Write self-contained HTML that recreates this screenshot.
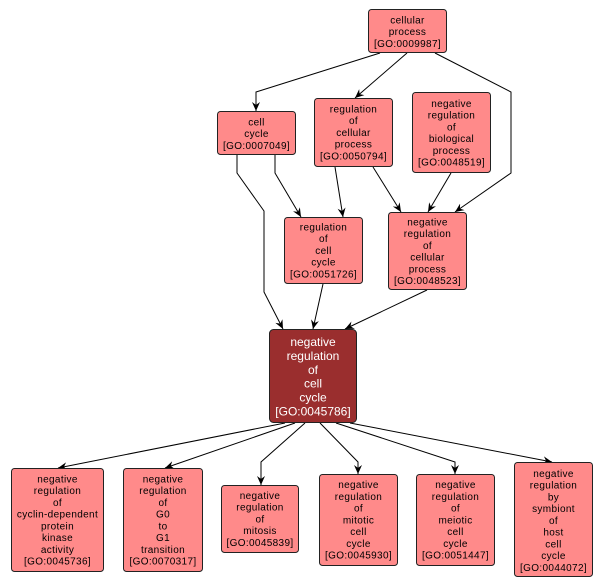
<!DOCTYPE html>
<html><head><meta charset="utf-8"><style>
html,body{margin:0;padding:0;background:#fff;}
svg{display:block;}
text{font-family:"Liberation Sans",Arial,sans-serif;}
.t{font-size:10px;letter-spacing:0.35px;fill:#000;text-anchor:middle;}
.m{font-size:12px;fill:#fff;text-anchor:middle;}
.n{fill:#FF8A8A;stroke:#222;stroke-width:1;}
.e{fill:none;stroke:#000;stroke-width:1;}
</style></head><body>
<svg width="603" height="588" viewBox="0 0 603 588" xmlns="http://www.w3.org/2000/svg">
<defs>
<marker id="a" markerWidth="10" markerHeight="8" refX="9" refY="4" orient="auto" markerUnits="userSpaceOnUse">
<path d="M0,0 L9,4 L0,8 L3,4 z" fill="#000"/>
</marker>
</defs>
<rect width="603" height="588" fill="#fff"/>
<!-- edges -->
<polyline class="e" points="380,53 256,92 256,111" marker-end="url(#a)"/>
<polyline class="e" points="407,53 355,98" marker-end="url(#a)"/>
<polyline class="e" points="435,53 511,92 511,173 455,212" marker-end="url(#a)"/>
<polyline class="e" points="237,155 237,173 264,211 264,292 283,329" marker-end="url(#a)"/>
<polyline class="e" points="275,155 275,173 301,217" marker-end="url(#a)"/>
<polyline class="e" points="335,167 343,217" marker-end="url(#a)"/>
<polyline class="e" points="373,167 401,212" marker-end="url(#a)"/>
<polyline class="e" points="451,173 428,212" marker-end="url(#a)"/>
<polyline class="e" points="323,284 313,329" marker-end="url(#a)"/>
<polyline class="e" points="427,290 345,329" marker-end="url(#a)"/>
<polyline class="e" points="285,423 58,468" marker-end="url(#a)"/>
<polyline class="e" points="295,423 165,468" marker-end="url(#a)"/>
<polyline class="e" points="305,423 261,462 261,485" marker-end="url(#a)"/>
<polyline class="e" points="320,423 358,462 358,474" marker-end="url(#a)"/>
<polyline class="e" points="336,423 455,462 455,474" marker-end="url(#a)"/>
<polyline class="e" points="350,423 552,462" marker-end="url(#a)"/>

<!-- nodes -->
<rect class="n" x="368.5" y="9.5" width="78" height="43" rx="3"/>
<text class="t" x="407.5"><tspan x="407.5" y="23.5">cellular</tspan><tspan x="407.5" y="35.2">process</tspan><tspan x="407.5" y="47">[GO:0009987]</tspan></text>

<rect class="n" x="217.5" y="111.5" width="78" height="43" rx="3"/>
<text class="t"><tspan x="256.5" y="125.5">cell</tspan><tspan x="256.5" y="137.2">cycle</tspan><tspan x="256.5" y="149">[GO:0007049]</tspan></text>

<rect class="n" x="314.5" y="98.5" width="78" height="68" rx="3"/>
<text class="t"><tspan x="353.5" y="112.5">regulation</tspan><tspan x="353.5" y="124.2">of</tspan><tspan x="353.5" y="136">cellular</tspan><tspan x="353.5" y="147.7">process</tspan><tspan x="353.5" y="159.5">[GO:0050794]</tspan></text>

<rect class="n" x="412.5" y="92.5" width="78" height="80" rx="3"/>
<text class="t"><tspan x="451.5" y="106.8">negative</tspan><tspan x="451.5" y="118.6">regulation</tspan><tspan x="451.5" y="130.4">of</tspan><tspan x="451.5" y="142.1">biological</tspan><tspan x="451.5" y="153.9">process</tspan><tspan x="451.5" y="165.6">[GO:0048519]</tspan></text>

<rect class="n" x="284.5" y="217.5" width="78" height="66" rx="3"/>
<text class="t"><tspan x="323.5" y="230.5">regulation</tspan><tspan x="323.5" y="242.2">of</tspan><tspan x="323.5" y="254">cell</tspan><tspan x="323.5" y="265.7">cycle</tspan><tspan x="323.5" y="277.5">[GO:0051726]</tspan></text>

<rect class="n" x="388.5" y="212.5" width="78" height="77" rx="3"/>
<text class="t"><tspan x="427.5" y="225.3">negative</tspan><tspan x="427.5" y="237.1">regulation</tspan><tspan x="427.5" y="248.9">of</tspan><tspan x="427.5" y="260.6">cellular</tspan><tspan x="427.5" y="272.4">process</tspan><tspan x="427.5" y="284.1">[GO:0048523]</tspan></text>

<rect x="269.5" y="329.5" width="87" height="93" rx="4" fill="#9A2E2E" stroke="#222"/>
<text class="m"><tspan x="313" y="346">negative</tspan><tspan x="313" y="360">regulation</tspan><tspan x="313" y="373.8">of</tspan><tspan x="313" y="387.6">cell</tspan><tspan x="313" y="401.5">cycle</tspan><tspan x="313" y="415.4">[GO:0045786]</tspan></text>

<rect class="n" x="11.5" y="468.5" width="92" height="103" rx="3"/>
<text class="t"><tspan x="57.5" y="482.4">negative</tspan><tspan x="57.5" y="494.1">regulation</tspan><tspan x="57.5" y="505.9">of</tspan><tspan x="57.5" y="517.6">cyclin-dependent</tspan><tspan x="57.5" y="529.4">protein</tspan><tspan x="57.5" y="541.1">kinase</tspan><tspan x="57.5" y="552.9">activity</tspan><tspan x="57.5" y="564.6">[GO:0045736]</tspan></text>

<rect class="n" x="123.5" y="468.5" width="79" height="103" rx="3"/>
<text class="t"><tspan x="163" y="482.4">negative</tspan><tspan x="163" y="494.1">regulation</tspan><tspan x="163" y="505.9">of</tspan><tspan x="163" y="517.6">G0</tspan><tspan x="163" y="529.4">to</tspan><tspan x="163" y="541.1">G1</tspan><tspan x="163" y="552.9">transition</tspan><tspan x="163" y="564.6">[GO:0070317]</tspan></text>

<rect class="n" x="221.5" y="485.5" width="77" height="67" rx="3"/>
<text class="t"><tspan x="260" y="499">negative</tspan><tspan x="260" y="510.7">regulation</tspan><tspan x="260" y="522.5">of</tspan><tspan x="260" y="534.2">mitosis</tspan><tspan x="260" y="546">[GO:0045839]</tspan></text>

<rect class="n" x="319.5" y="474.5" width="78" height="91" rx="3"/>
<text class="t"><tspan x="358.5" y="488.2">negative</tspan><tspan x="358.5" y="500">regulation</tspan><tspan x="358.5" y="511.7">of</tspan><tspan x="358.5" y="523.5">mitotic</tspan><tspan x="358.5" y="535.2">cell</tspan><tspan x="358.5" y="547">cycle</tspan><tspan x="358.5" y="558.7">[GO:0045930]</tspan></text>

<rect class="n" x="416.5" y="474.5" width="78" height="91" rx="3"/>
<text class="t"><tspan x="455.5" y="488.2">negative</tspan><tspan x="455.5" y="500">regulation</tspan><tspan x="455.5" y="511.7">of</tspan><tspan x="455.5" y="523.5">meiotic</tspan><tspan x="455.5" y="535.2">cell</tspan><tspan x="455.5" y="547">cycle</tspan><tspan x="455.5" y="558.7">[GO:0051447]</tspan></text>

<rect class="n" x="514.5" y="462.5" width="78" height="114" rx="3"/>
<text class="t"><tspan x="553.5" y="476.8">negative</tspan><tspan x="553.5" y="488.5">regulation</tspan><tspan x="553.5" y="500.3">by</tspan><tspan x="553.5" y="512">symbiont</tspan><tspan x="553.5" y="523.8">of</tspan><tspan x="553.5" y="535.5">host</tspan><tspan x="553.5" y="547.3">cell</tspan><tspan x="553.5" y="559">cycle</tspan><tspan x="553.5" y="570.8">[GO:0044072]</tspan></text>
</svg>
</body></html>
